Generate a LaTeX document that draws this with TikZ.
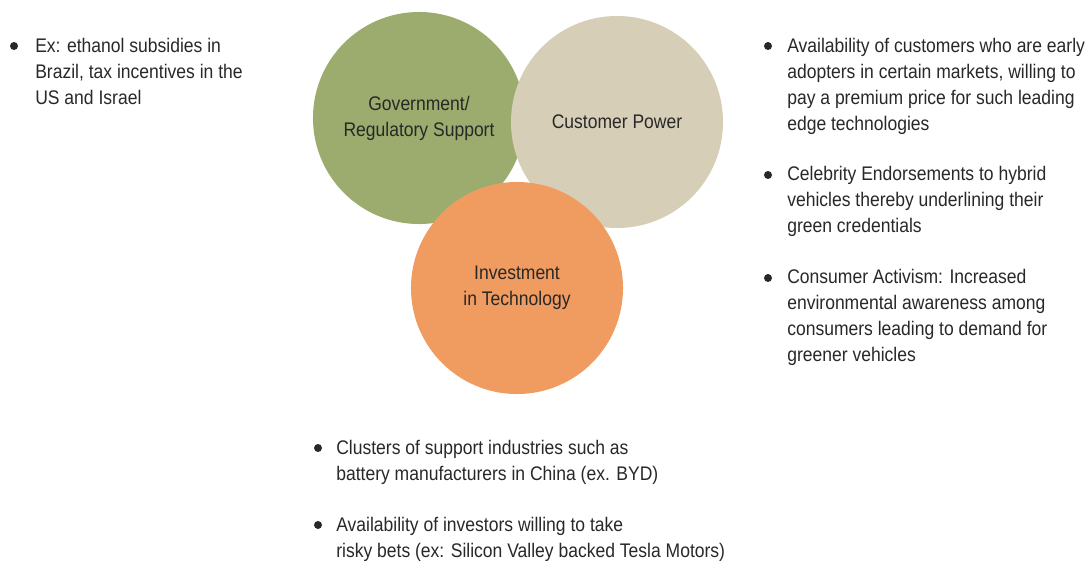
\documentclass[tikz,border=0pt]{standalone}
\usepackage{fontspec}
\setmainfont[FakeStretch=0.89]{Liberation Sans}
\definecolor{mygreen}{RGB}{155,172,110}
\definecolor{mybeige}{RGB}{214,206,183}
\definecolor{myorange}{RGB}{240,156,96}
\definecolor{mytext}{RGB}{40,40,40}
\newcommand*{\mytextstyle}{\fontsize{14pt}{18.45pt}\selectfont\color{mytext}}

\tikzset{
   bubble/.style = {
      circle,
      minimum size = 5.3cm,
      inner sep    = 0pt,
      font         = \mytextstyle,
      align        = center
   },
   item/.style = {
      anchor    = north west,
      inner sep = 0pt,
      font      = \mytextstyle,
      align     = left
   },
   dot/.style = {
      circle,
      fill         = mytext,
      minimum size = 0.2cm,
      inner sep    = 0pt
   }
}

\begin{document}
\begin{tikzpicture}[x=0.025cm, y=-0.025cm]
   \useasboundingbox (0,0) rectangle (1090,560);

   % the three drivers
   \node[bubble, fill = mygreen]  (gov)  at (419,118) {Government/\\Regulatory Support};
   \node[bubble, fill = mybeige]  (cust) at (617,122) {Customer Power};
   \node[bubble, fill = myorange] (tech) at (517,288) {Investment\\in Technology};

   % left
   \node[item] (gov1) at (35,38) {Ex: ethanol subsidies in\\Brazil, tax incentives in the\\US and Israel};
   \node[dot]  (gov1dot) at (14,46) {};

   % right
   \node[item] (cust1) at (787,38) {Availability of customers who are early\\adopters in certain markets, willing to\\pay a premium price for such leading\\edge technologies};
   \node[item] (cust2) at (787,166) {Celebrity Endorsements to hybrid\\vehicles thereby underlining their\\green credentials};
   \node[item] (cust3) at (787,269) {Consumer Activism: Increased\\environmental awareness among\\consumers leading to demand for\\greener vehicles};
   \node[dot]  (cust1dot) at (768,46) {};
   \node[dot]  (cust2dot) at (768,175) {};
   \node[dot]  (cust3dot) at (768,278) {};

   % bottom
   \node[item] (tech1) at (336,440) {Clusters of support industries such as\\battery manufacturers in China (ex. BYD)};
   \node[item] (tech2) at (336,517) {Availability of investors willing to take\\risky bets (ex: Silicon Valley backed Tesla Motors)};
   \node[dot]  (tech1dot) at (318,448) {};
   \node[dot]  (tech2dot) at (318,525) {};
\end{tikzpicture}
\end{document}
